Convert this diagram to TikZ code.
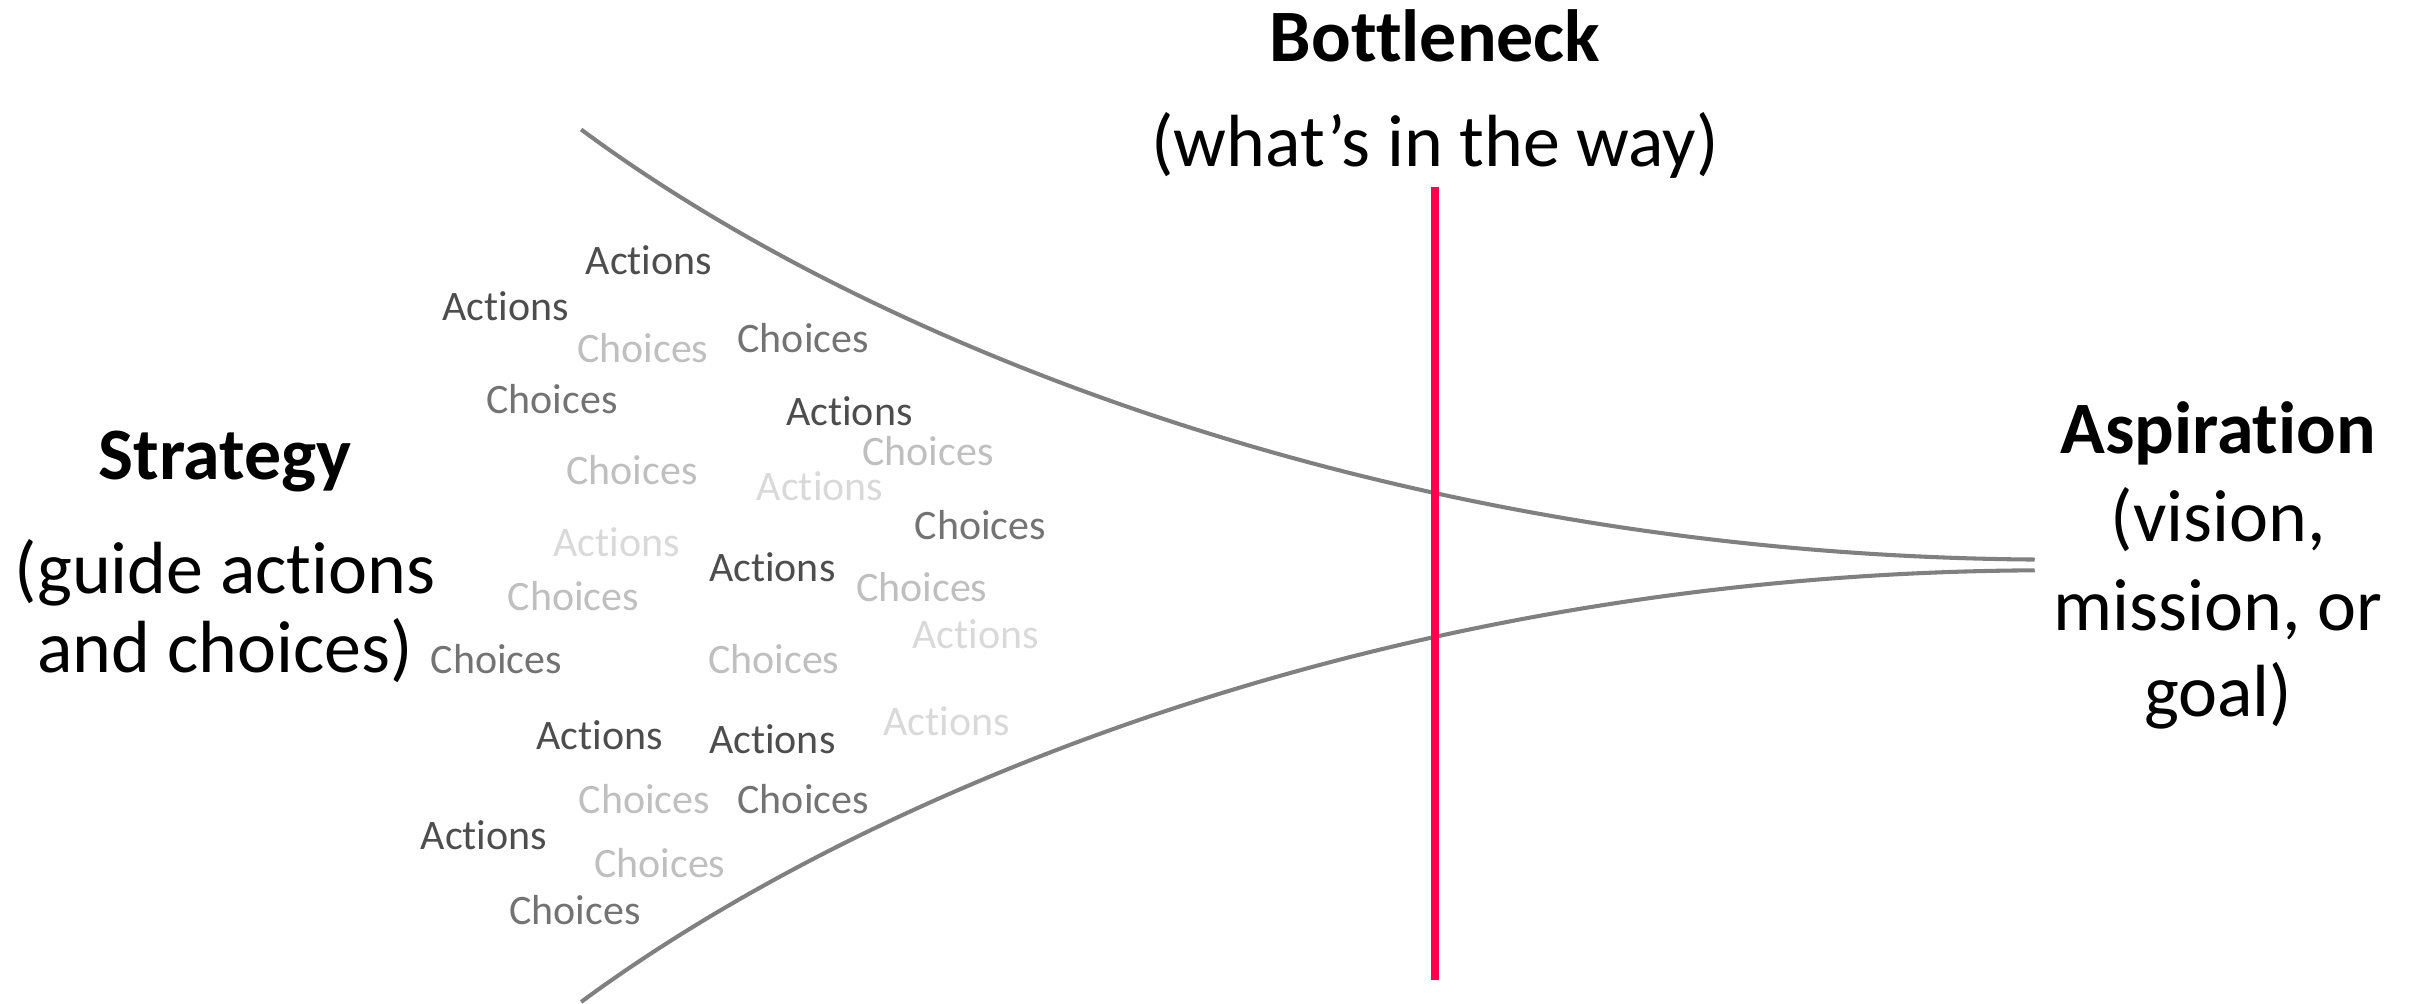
\documentclass[tikz,border=0pt]{standalone}
\usepackage{fontspec}
\setmainfont{Carlito}[RawFeature={-liga;-clig;-calt;-ccmp;-rlig;-dlig}]
\usepackage{tikz}

\definecolor{neckred}{RGB}{255,0,80}
\definecolor{funnelgray}{RGB}{128,128,128}
\definecolor{wdark}{RGB}{77,77,77}
\definecolor{wmid}{RGB}{115,115,115}
\definecolor{wlight}{RGB}{191,191,191}
\definecolor{wpale}{RGB}{217,217,217}

\begin{document}
\begin{tikzpicture}[
        x=0.02cm, y=-0.02cm,
        big/.style = {anchor=base, inner sep=0pt, font=\fontsize{27.3}{33}\selectfont},
        big bold/.style = {big, font=\fontsize{27.3}{33}\selectfont\bfseries},
        word/.style = {anchor=base, inner sep=0pt, font=\fontsize{15.5}{18}\selectfont},
        act dark/.style = {word, text=wdark},
        cho mid/.style = {word, text=wmid},
        cho light/.style = {word, text=wlight},
        act pale/.style = {word, text=wpale},
        funnel/.style = {draw=funnelgray, line width=1.5pt},
        neck line/.style = {draw=neckred, line width=2.8pt},
        ]
        \useasboundingbox (0,0) rectangle (1568,651);

        % Headings
        \node[big bold] (neck) at (931,40) {Bottleneck};
        \node[big] (neck2) at (931,108) {(what’s in the way)};

        \node[big bold] (strat) at (146,311) {Strategy};
        \node[big] (strat2) at (146,385) {(guide actions};
        \node[big] (strat3) at (146,436) {and choices)};

        \node[big bold] (asp) at (1439,294) {Aspiration};
        \node[big] (asp2) at (1439,351) {(vision,};
        \node[big] (asp3) at (1439,409) {mission, or};
        \node[big] (asp4) at (1439,465) {goal)};

        % Funnel walls
        \coordinate (top in) at (377,84);
        \coordinate (bot in) at (377,650);
        \coordinate (top out) at (1320,363);
        \coordinate (bot out) at (1320,370);
        \draw[funnel] (top in) .. controls (560,220) and (900,360) .. (top out);
        \draw[funnel] (bot in) .. controls (560,515) and (900,372) .. (bot out);

        % Bottleneck bar
        \coordinate (neck top) at (931,121);
        \coordinate (neck bot) at (931,636);
        \draw[neck line] (neck top) -- (neck bot);

        % Actions
        \node[act dark] (a1) at (421,178) {Actions};
        \node[act dark] (a2) at (328,208) {Actions};
        \node[act dark] (a3) at (551,276) {Actions};
        \node[act dark] (a4) at (501,377) {Actions};
        \node[act dark] (a5) at (389,486) {Actions};
        \node[act dark] (a6) at (501,489) {Actions};
        \node[act dark] (a7) at (314,551) {Actions};

        \node[act pale] (a8) at (532,325) {Actions};
        \node[act pale] (a9) at (400,361) {Actions};
        \node[act pale] (a10) at (633,421) {Actions};
        \node[act pale] (a11) at (614,477) {Actions};

        % Choices
        \node[cho mid] (c1) at (521,229) {Choices};
        \node[cho mid] (c2) at (358,268) {Choices};
        \node[cho mid] (c3) at (636,350) {Choices};
        \node[cho mid] (c4) at (322,437) {Choices};
        \node[cho mid] (c5) at (521,528) {Choices};
        \node[cho mid] (c6) at (373,600) {Choices};

        \node[cho light] (c7) at (417,235) {Choices};
        \node[cho light] (c8) at (602,302) {Choices};
        \node[cho light] (c9) at (410,314) {Choices};
        \node[cho light] (c10) at (598,390) {Choices};
        \node[cho light] (c11) at (372,396) {Choices};
        \node[cho light] (c12) at (502,437) {Choices};
        \node[cho light] (c13) at (418,528) {Choices};
        \node[cho light] (c14) at (428,569) {Choices};
    \end{tikzpicture}
\end{document}
